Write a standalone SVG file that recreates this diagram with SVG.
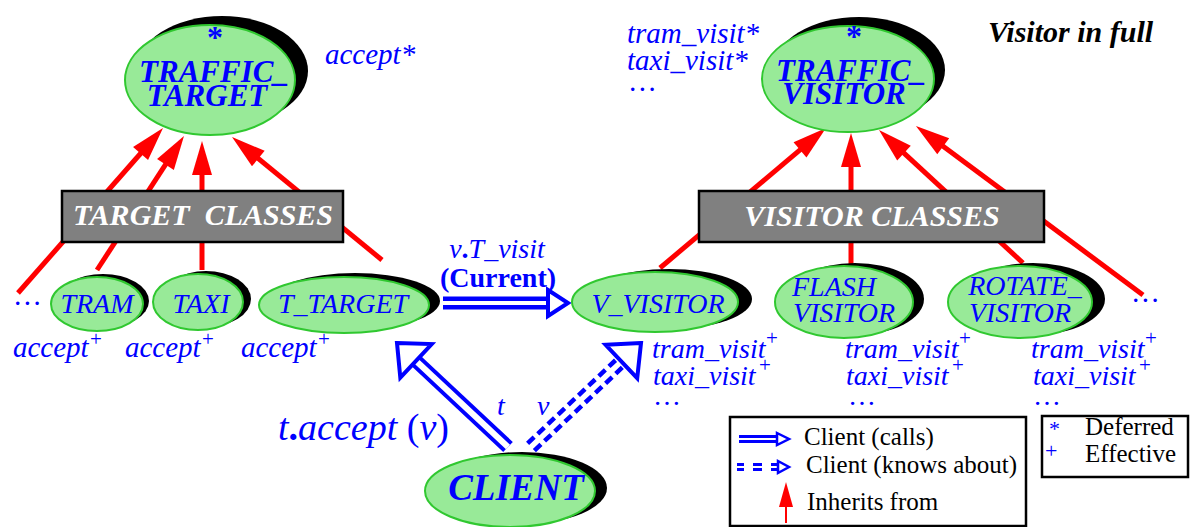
<svg xmlns="http://www.w3.org/2000/svg" width="1190" height="527" viewBox="0 0 1190 527" font-family="'Liberation Serif', serif">
<style>
.sh{fill:#000}
.nd{fill:#98ea98;stroke:#30c830;stroke-width:2}
.box{fill:#808080;stroke:#000;stroke-width:2.5}
text{font-family:'Liberation Serif',serif}
.b{fill:#0000ff}
.it{font-style:italic}
.bd{font-weight:bold}
.up{font-style:normal;font-weight:normal}
.big{font-size:31px;font-weight:bold;font-style:italic;fill:#0000ff;text-anchor:middle}
.sm{font-size:29px;font-style:italic;fill:#0000ff}
.vs{font-size:28px;font-style:italic;fill:#0000ff}
.lab{font-size:28px;font-style:italic;fill:#0000ff;text-anchor:middle}
.sup{font-size:21px;fill:#0000ff}
.star{font-size:32px;font-weight:bold;fill:#0000ff;text-anchor:middle}
.cls{font-size:30px;font-weight:bold;font-style:italic;fill:#fff;text-anchor:middle;white-space:pre}
.red{stroke:#ff0000;stroke-width:5;fill:none}
.leg{font-size:25px;fill:#000}
</style>
<defs>
<marker id="ra" markerUnits="userSpaceOnUse" markerWidth="34" markerHeight="20" refX="14" refY="10" orient="auto" overflow="visible">
<path d="M0,0 L34,10 L0,20 z" fill="#ff0000"/>
</marker>
</defs>

<g id="connectors">
<line class="red" x1="18" y1="293" x2="149.8" y2="143" marker-end="url(#ra)"/>
<line class="red" x1="97" y1="270" x2="173.1" y2="152.8" marker-end="url(#ra)"/>
<line class="red" x1="202" y1="270" x2="202" y2="161" marker-end="url(#ra)"/>
<line class="red" x1="382" y1="260" x2="247.5" y2="149.7" marker-end="url(#ra)"/>
<line class="red" x1="660" y1="268" x2="810.7" y2="140.9" marker-end="url(#ra)"/>
<line class="red" x1="851" y1="264" x2="851" y2="153" marker-end="url(#ra)"/>
<line class="red" x1="1023" y1="263" x2="893.7" y2="143.6" marker-end="url(#ra)"/>
<line class="red" x1="1143" y1="295" x2="932" y2="137.9" marker-end="url(#ra)"/>
<line x1="443" y1="303" x2="550" y2="303" stroke="#0000ff" stroke-width="13"/>
<line x1="443" y1="303" x2="550" y2="303" stroke="#fff" stroke-width="4"/>
<polygon points="548,290 568,303 548,316" fill="#fff" stroke="#0000ff" stroke-width="4"/>
<line x1="508" y1="447" x2="414" y2="359" stroke="#0000ff" stroke-width="14"/>
<line x1="508" y1="447" x2="414" y2="359" stroke="#fff" stroke-width="6"/>
<polygon points="397,343 431.7,344 400.3,377.6" fill="#fff" stroke="#0000ff" stroke-width="4"/>
<line x1="534.4" y1="450.6" x2="624.8" y2="365.1" stroke="#0000ff" stroke-width="4.5" stroke-dasharray="9 5"/>
<line x1="527.6" y1="443.4" x2="618" y2="357.9" stroke="#0000ff" stroke-width="4.5" stroke-dasharray="9 5"/>
<polygon points="641,343 605.6,344.8 637.2,378.2" fill="#fff" stroke="#0000ff" stroke-width="4"/>
</g>

<g id="traffic_target">
<ellipse class="sh" cx="222" cy="71" rx="86" ry="55"/>
<ellipse class="nd" cx="210" cy="80" rx="85" ry="55"/>
<text class="star" x="215" y="48">*</text>
<text class="big" x="214" y="82">TRAFFIC_</text>
<text class="big" x="207" y="106">TARGET</text>
</g>
<text class="sm" x="325" y="64">accept*</text>

<g id="traffic_visitor">
<ellipse class="sh" cx="859" cy="70" rx="86" ry="53"/>
<ellipse class="nd" cx="848" cy="79" rx="86" ry="53"/>
<text class="star" x="854" y="47">*</text>
<text class="big" x="851" y="81">TRAFFIC_</text>
<text class="big" x="844" y="104">VISITOR</text>
</g>
<text class="sm" x="627" y="43">tram_visit*</text>
<text class="sm" x="627" y="70">taxi_visit*</text>
<text class="sm" x="630" y="91">…</text>
<text class="bd it" x="988" y="42" font-size="30" fill="#000">Visitor in full</text>

<g id="target_classes">
<rect class="box" x="62" y="191" width="281" height="51"/>
<text class="cls" x="203" y="225">TARGET  CLASSES</text>
</g>
<g id="visitor_classes">
<rect class="box" x="699" y="191" width="345" height="51"/>
<text class="cls" x="872" y="226">VISITOR CLASSES</text>
</g>

<text class="sm" x="15" y="305">…</text>
<text class="sm" x="1133" y="302">…</text>

<g id="tram">
<ellipse class="sh" cx="103" cy="301" rx="46" ry="27"/>
<ellipse class="nd" cx="97" cy="304" rx="46" ry="27"/>
<text class="lab" x="97" y="313">TRAM</text>
</g>
<g id="taxi">
<ellipse class="sh" cx="206" cy="299" rx="45" ry="28"/>
<ellipse class="nd" cx="198" cy="302" rx="45" ry="28"/>
<text class="lab" x="201" y="313">TAXI</text>
</g>
<g id="t_target">
<ellipse class="sh" cx="355" cy="301" rx="85" ry="28"/>
<ellipse class="nd" cx="344" cy="305" rx="85" ry="28"/>
<text class="lab" x="343" y="313">T_TARGET</text>
</g>
<text class="sm" x="13" y="357">accept</text>
<text class="sup" x="90" y="346">+</text>
<text class="sm" x="125" y="357">accept</text>
<text class="sup" x="202" y="346">+</text>
<text class="sm" x="241" y="357">accept</text>
<text class="sup" x="318" y="346">+</text>

<text class="b" x="497" y="258" font-size="28" text-anchor="middle"><tspan class="it">v</tspan><tspan class="bd">.</tspan><tspan class="it">T_visit</tspan></text>
<text class="b bd" x="498" y="287" font-size="28" text-anchor="middle">(Current)</text>

<g id="v_visitor">
<ellipse class="sh" cx="669" cy="299" rx="83" ry="30"/>
<ellipse class="nd" cx="655" cy="302" rx="83" ry="30"/>
<text class="lab" x="658" y="313">V_VISITOR</text>
</g>
<g id="flash_visitor">
<ellipse class="sh" cx="855" cy="299" rx="69" ry="36"/>
<ellipse class="nd" cx="844" cy="302" rx="69" ry="36"/>
<text class="lab" x="834" y="296">FLASH</text>
<text class="lab" x="844" y="322">VISITOR</text>
</g>
<g id="rotate_visitor">
<ellipse class="sh" cx="1033" cy="299" rx="72" ry="36"/>
<ellipse class="nd" cx="1020" cy="302" rx="72" ry="36"/>
<text class="lab" x="1025" y="295">ROTATE_</text>
<text class="lab" x="1020" y="322">VISITOR</text>
</g>

<text class="vs" x="652" y="358">tram_visit</text>
<text class="sup" x="766" y="345">+</text>
<text class="vs" x="653" y="385">taxi_visit</text>
<text class="sup" x="759" y="372">+</text>
<text class="vs" x="655" y="405">…</text>

<text class="vs" x="845" y="358">tram_visit</text>
<text class="sup" x="959" y="345">+</text>
<text class="vs" x="846" y="385">taxi_visit</text>
<text class="sup" x="952" y="372">+</text>
<text class="vs" x="850" y="405">…</text>

<text class="vs" x="1031" y="358">tram_visit</text>
<text class="sup" x="1145" y="345">+</text>
<text class="vs" x="1033" y="385">taxi_visit</text>
<text class="sup" x="1139" y="372">+</text>
<text class="vs" x="1035" y="405">…</text>

<text class="vs" x="497" y="415" font-size="26">t</text>
<text class="vs" x="537" y="415" font-size="26">v</text>
<text class="b" x="278" y="440" font-size="38"><tspan class="it">t</tspan><tspan class="bd">.</tspan><tspan class="it">accept</tspan><tspan class="up"> (</tspan><tspan class="it">v</tspan><tspan class="up">)</tspan></text>

<g id="client">
<ellipse class="sh" cx="522" cy="488" rx="85" ry="36"/>
<ellipse class="nd" cx="510" cy="491" rx="85" ry="36"/>
<text class="bd it b" x="516" y="500" font-size="37" text-anchor="middle">CLIENT</text>
</g>

<g id="legend">
<rect x="730" y="417" width="296" height="109" fill="#fff" stroke="#000" stroke-width="2.5"/>
<line x1="739" y1="439" x2="778" y2="439" stroke="#0000ff" stroke-width="8"/>
<line x1="739" y1="439" x2="778" y2="439" stroke="#fff" stroke-width="2"/>
<polygon points="777,433 789,439 777,445" fill="#fff" stroke="#0000ff" stroke-width="2.5"/>
<text class="leg" x="804" y="445">Client (calls)</text>
<g stroke="#0000ff" stroke-width="3">
<line x1="737" y1="464.5" x2="744" y2="464.5"/><line x1="753" y1="464.5" x2="762" y2="464.5"/><line x1="771" y1="464.5" x2="778" y2="464.5"/>
<line x1="737" y1="469.5" x2="744" y2="469.5"/><line x1="753" y1="469.5" x2="762" y2="469.5"/><line x1="771" y1="469.5" x2="778" y2="469.5"/>
</g>
<polygon points="778,461 789,467 778,473" fill="#fff" stroke="#0000ff" stroke-width="2.5"/>
<text class="leg" x="806" y="473">Client (knows about)</text>
<line x1="786" y1="523" x2="786" y2="500" stroke="#ff0000" stroke-width="2"/>
<polygon points="786,482 793,507 779,507" fill="#ff0000"/>
<text class="leg" x="807" y="510">Inherits from</text>
</g>
<g id="key">
<rect x="1042" y="416" width="146" height="61" fill="#fff" stroke="#000" stroke-width="2.5"/>
<text class="b" x="1049" y="436" font-size="22">*</text>
<text class="leg" x="1085" y="435">Deferred</text>
<text class="b" x="1045" y="458" font-size="22">+</text>
<text class="leg" x="1085" y="462">Effective</text>
</g>
</svg>
